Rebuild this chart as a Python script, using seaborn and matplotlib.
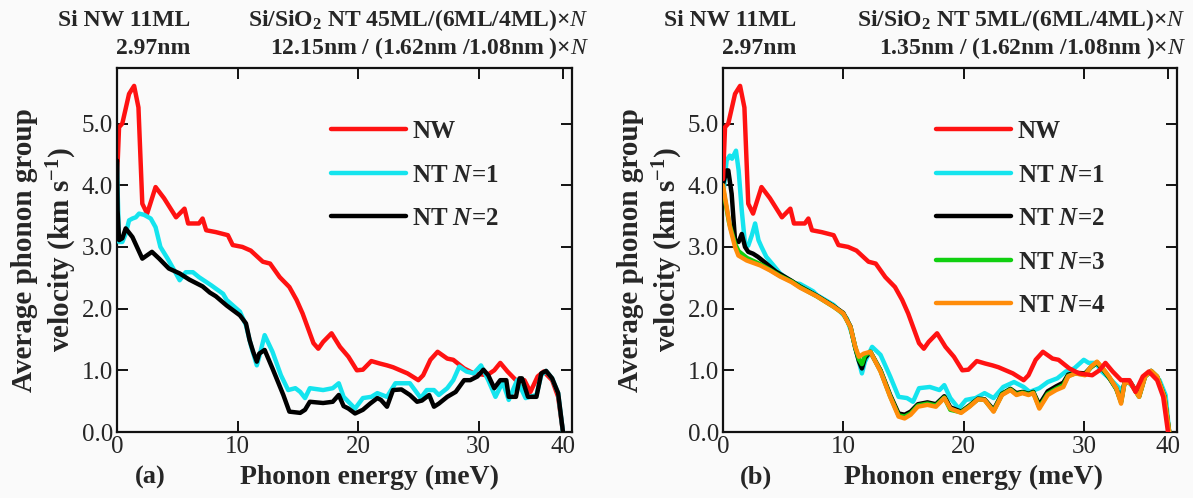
import numpy as np
import pandas as pd
import seaborn as sns
from matplotlib import pyplot as plt

# ---- data (phonon energy in meV, velocity in km/s) ----
nw_e = [0, 0.17, 0.44, 1.0, 1.42, 1.78, 2.1, 2.5, 3.2, 3.9, 4.9, 5.6, 5.9, 6.8, 7.1, 7.4, 8.2, 9.2,
        9.6, 10.4, 11.1, 12.1, 12.7, 13.5, 14.3, 14.9, 15.4, 16.3, 16.7, 17.1, 17.8, 18.5, 19.2,
        19.9, 20.4, 21.1, 21.8, 22.4, 22.9, 24.1, 25.0, 25.4, 26.0, 26.6, 27.4, 27.9, 28.8, 29.6,
        30.7, 31.3, 31.8, 32.4, 33.1, 33.8, 34.3, 34.9, 35.4, 36.1, 36.6, 37.0]
nw_v = [4.1, 4.94, 5.0, 5.48, 5.61, 5.26, 3.70, 3.54, 3.97, 3.79, 3.48, 3.62, 3.38, 3.38, 3.46, 3.27,
        3.24, 3.19, 3.03, 3.0, 2.94, 2.76, 2.73, 2.51, 2.35, 2.14, 1.92, 1.44, 1.35, 1.46, 1.60, 1.38,
        1.22, 1.0, 1.01, 1.15, 1.11, 1.08, 1.05, 0.95, 0.84, 0.92, 1.17, 1.30, 1.19, 1.17, 1.03, 0.95,
        0.92, 1.0, 1.12, 0.98, 0.84, 0.84, 0.65, 0.9, 0.98, 0.84, 0.57, 0.0]

# panel (a): NT 45ML
a1_e = [0, 0.05, 0.17, 0.44, 0.72, 1.0, 1.28, 1.56, 1.83, 2.25, 2.8, 3.2, 3.6, 4.2, 4.75, 5.2, 5.7,
        6.3, 6.8, 7.8, 8.8, 9.1, 10.2, 10.7, 11.1, 11.6, 11.8, 12.25, 12.9, 13.6, 14.2, 14.8, 15.2,
        15.6, 16.0, 17.1, 17.9, 18.4, 18.8, 19.75, 20.4, 21.1, 21.6, 22.4, 23.1, 24.3, 25.2, 25.7,
        26.3, 26.7, 27.4, 27.9, 28.4, 29.0, 29.6, 30.2, 30.8, 31.4, 32.0, 32.5, 33.2, 33.9, 34.8,
        35.2, 35.6, 36.1, 36.6, 37.0]
a1_v = [4.37, 3.92, 3.08, 3.08, 3.21, 3.43, 3.46, 3.48, 3.54, 3.52, 3.46, 3.32, 3.0, 2.81, 2.62, 2.46,
        2.59, 2.59, 2.51, 2.38, 2.24, 2.14, 1.95, 1.73, 1.41, 1.08, 1.22, 1.57, 1.30, 0.92, 0.68, 0.71,
        0.65, 0.55, 0.71, 0.68, 0.71, 0.79, 0.57, 0.38, 0.55, 0.57, 0.63, 0.57, 0.79, 0.79, 0.55, 0.68,
        0.68, 0.6, 0.71, 0.84, 1.06, 0.98, 0.95, 1.08, 0.84, 0.57, 0.81, 0.52, 0.84, 0.55, 0.6,
        0.92, 0.99, 0.87, 0.63, 0.0]

a2_e = [0, 0.05, 0.17, 0.44, 0.72, 1.28, 2.1, 2.9, 3.5, 4.3, 5.2, 6.0, 7.1, 7.7, 8.2, 9.1, 10.2,
        10.7, 11.0, 11.3, 11.6, 11.8, 12.25, 12.9, 13.8, 14.3, 15.2, 15.6, 16.0, 17.1, 17.9, 18.4,
        18.8, 19.2, 19.75, 20.4, 21.0, 21.6, 21.9, 22.4, 22.9, 23.6, 24.3, 24.9, 25.3, 25.9, 26.3,
        26.7, 27.4, 28.1, 28.8, 29.3, 29.9, 30.4, 30.8, 31.3, 31.8, 32.3, 32.5, 33.1, 33.4, 33.6,
        34.1, 34.8, 35.2, 35.6, 36.1, 36.6, 37.0]
a2_v = [4.40, 3.59, 3.11, 3.14, 3.30, 3.16, 2.81, 2.92, 2.81, 2.65, 2.57, 2.47, 2.36, 2.26, 2.2, 2.05,
        1.89, 1.76, 1.49, 1.30, 1.14, 1.27, 1.33, 1.03, 0.6, 0.33, 0.31, 0.36, 0.49, 0.47, 0.49, 0.6,
        0.42, 0.38, 0.30, 0.36, 0.46, 0.55, 0.52, 0.41, 0.68, 0.69, 0.6, 0.49, 0.51, 0.6, 0.41,
        0.46, 0.57, 0.65, 0.84, 0.84, 0.9, 1.01, 0.92, 0.71, 0.84, 0.84, 0.57, 0.57, 0.87, 0.87,
        0.57, 0.57, 0.95, 0.99, 0.87, 0.63, 0.0]

# panel (b): NT 5ML
b1_e = [0, 0.3, 0.56, 0.75, 1.08, 1.3, 1.56, 1.83, 2.1, 2.4, 2.67, 2.95, 3.2, 3.6, 4.2, 4.75, 5.3,
        6.0, 6.4, 7.5, 7.8, 9.2, 10.3, 10.7, 11.2, 11.55, 11.8, 12.4, 13.1, 13.9, 14.6, 15.3, 15.8,
        16.3, 17.2, 18.0, 18.4, 18.9, 19.6, 20.2, 21.0, 21.75, 22.5, 23.3, 24.2, 25.0, 25.5, 26.3,
        27.0, 27.8, 28.5, 29.2, 30.0, 30.4, 31.0, 31.5, 32.3, 33.1, 33.6, 34.5, 35.1, 35.6, 36.3,
        36.8, 37.1]
b1_v = [3.81, 4.40, 4.48, 4.43, 4.56, 4.24, 3.59, 3.05, 3.02, 3.19, 3.38, 3.11, 3.0, 2.84, 2.70, 2.57,
        2.49, 2.41, 2.40, 2.28, 2.22, 2.06, 1.84, 1.60, 1.22, 0.95, 1.14, 1.38, 1.25, 0.9, 0.57, 0.55,
        0.49, 0.71, 0.73, 0.68, 0.76, 0.55, 0.38, 0.52, 0.55, 0.63, 0.55, 0.73, 0.81, 0.73, 0.65, 0.71,
        0.81, 0.87, 0.98, 1.03, 1.17, 1.12, 1.12, 0.98, 0.84, 0.68, 0.84, 0.63, 0.90, 0.98, 0.84,
        0.6, 0.0]

b2_e = [0, 0.3, 0.44, 0.72, 1.0, 1.3, 1.56, 1.83, 2.1, 2.5, 2.9, 3.6, 4.4, 5.7, 6.4, 7.8, 9.2, 10.0,
        10.6, 11.0, 11.3, 11.55, 11.8, 12.25, 13.1, 13.9, 14.6, 15.1, 15.6, 16.2, 17.0, 17.7, 18.4,
        18.9, 19.8, 20.5, 21.2, 21.75, 22.5, 23.2, 23.9, 24.4, 24.9, 25.4, 25.8, 26.3, 27.0, 27.7,
        28.3, 28.7, 29.3, 30.1, 30.6, 31.1, 31.6, 32.1, 32.7, 33.1, 33.4, 33.9, 34.6, 35.1, 35.6,
        36.1, 36.7, 37.1]
b2_v = [4.02, 4.24, 4.24, 3.86, 3.11, 3.08, 3.21, 3.0, 2.92, 2.89, 2.84, 2.73, 2.6, 2.45, 2.36, 2.21,
        2.04, 1.93, 1.71, 1.36, 1.15, 1.03, 1.20, 1.30, 1.0, 0.60, 0.30, 0.28, 0.33, 0.45, 0.48, 0.45,
        0.58, 0.40, 0.33, 0.43, 0.54, 0.53, 0.36, 0.62, 0.70, 0.63, 0.65, 0.62, 0.65, 0.44, 0.66,
        0.74, 0.80, 0.93, 0.96, 0.95, 1.05, 1.12, 1.01, 0.88, 0.70, 0.50, 0.82, 0.80, 0.58, 0.91,
        0.99, 0.89, 0.58, 0.0]

b3_e = [0, 0.5, 1.0, 1.3, 2.0, 3.1, 3.9, 4.75, 5.7, 6.4, 7.8, 9.2, 10.0, 10.6, 11.0, 11.3, 11.55,
        11.8, 12.25, 13.1, 13.9, 14.6, 15.1, 15.6, 16.2, 17.0, 17.7, 18.4, 18.9, 19.8, 20.5, 21.2,
        21.75, 22.5, 23.2, 23.9, 24.4, 24.9, 25.4, 25.8, 26.3, 27.0, 27.7, 28.3, 28.7, 29.3, 30.1,
        30.6, 31.1, 31.6, 32.1, 32.7, 33.1, 33.4, 33.9, 34.6, 35.1, 35.6, 36.1, 36.7, 37.1]
b3_v = [3.95, 3.4, 3.05, 2.93, 2.82, 2.72, 2.63, 2.53, 2.44, 2.35, 2.20, 2.03, 1.92, 1.70, 1.37, 1.18,
        1.10, 1.24, 1.30, 0.99, 0.58, 0.27, 0.25, 0.30, 0.43, 0.46, 0.43, 0.56, 0.36, 0.32, 0.42, 0.53,
        0.52, 0.34, 0.61, 0.69, 0.61, 0.64, 0.61, 0.64, 0.40, 0.62, 0.70, 0.76, 0.91, 0.95, 0.93,
        1.05, 1.13, 1.02, 0.89, 0.70, 0.48, 0.81, 0.79, 0.57, 0.90, 0.99, 0.90, 0.57, 0.0]

b4_e = [0, 0.58, 1.0, 1.28, 1.97, 3.1, 3.9, 4.75, 5.7, 6.4, 7.8, 9.2, 10.0, 10.6, 11.0, 11.3, 11.7,
        12.25, 13.1, 13.9, 14.6, 15.1, 15.6, 16.2, 17.0, 17.7, 18.4, 18.9, 19.8, 20.5, 21.2, 21.75,
        22.5, 23.2, 23.9, 24.4, 24.9, 25.4, 25.8, 26.3, 27.0, 27.7, 28.3, 28.7, 29.3, 30.1, 30.6,
        31.1, 31.6, 32.1, 32.7, 33.1, 33.4, 33.9, 34.6, 35.1, 35.6, 36.1, 36.7, 37.1]
b4_v = [4.0, 3.32, 3.0, 2.86, 2.78, 2.70, 2.62, 2.52, 2.43, 2.34, 2.20, 2.03, 1.92, 1.70, 1.38, 1.22,
        1.27, 1.30, 0.98, 0.57, 0.25, 0.22, 0.28, 0.41, 0.44, 0.41, 0.55, 0.38, 0.31, 0.41, 0.53, 0.52,
        0.33, 0.6, 0.68, 0.6, 0.63, 0.6, 0.63, 0.38, 0.6, 0.68, 0.73, 0.90, 0.95, 0.92, 1.06,
        1.14, 1.03, 0.90, 0.71, 0.46, 0.81, 0.79, 0.57, 0.90, 0.99, 0.90, 0.57, 0.0]

y_ticks = [0, 1, 2, 3, 4, 5]
x_ticks = [0, 10, 20, 30]
x_labels = ['0', '10', '20', '30', '40']

RED, CYAN, BLACK, GREEN, ORANGE = '#ff1212', '#14e4ee', '#000000', '#10d010', '#ff8c0a'

# ---- style ----
sns.set_style('ticks')
plt.rcParams['font.family'] = ['Liberation Serif', 'DejaVu Serif']
plt.rcParams['mathtext.fontset'] = 'custom'
plt.rcParams['mathtext.rm'] = 'Liberation Serif:bold'
plt.rcParams['mathtext.bf'] = 'Liberation Serif:bold'
plt.rcParams['mathtext.it'] = 'Liberation Serif:italic:bold'
plt.rcParams['mathtext.sf'] = 'Liberation Serif:italic'

BG = '#fafafa'
fig = plt.figure(figsize=(11.93, 4.98), dpi=100, facecolor=BG)
W, H = 1193, 498
ax_a = fig.add_axes([117 / W, 66 / H, 455 / W, 364 / H], facecolor=BG)
ax_b = fig.add_axes([723 / W, 66 / H, 454 / W, 364 / H], facecolor=BG)


def draw(ax, e, v, color, label, z):
    df = pd.DataFrame({'E': e, 'v': v})
    sns.lineplot(data=df, x='E', y='v', ax=ax, color=color, lw=3.2, label=label,
                 estimator=None, sort=False, zorder=z)


N = r'$N$'
draw(ax_a, nw_e, nw_v, RED, 'NW', 2)
draw(ax_a, a1_e, a1_v, CYAN, f'NT {N}=1', 3)
draw(ax_a, a2_e, a2_v, BLACK, f'NT {N}=2', 4)

draw(ax_b, nw_e, nw_v, RED, 'NW', 7)
draw(ax_b, b1_e, b1_v, CYAN, f'NT {N}=1', 2)
draw(ax_b, b2_e, b2_v, BLACK, f'NT {N}=2', 3)
draw(ax_b, b3_e, b3_v, GREEN, f'NT {N}=3', 4)
draw(ax_b, b4_e, b4_v, ORANGE, f'NT {N}=4', 5)

for ax in (ax_a, ax_b):
    ax.set_xlim(0, 37.75)
    ax.set_ylim(0, 5.9)
    ax.set_xticks(x_ticks + [37.0], labels=x_labels)
    ax.set_yticks(y_ticks, labels=[f'{t:.1f}' for t in y_ticks])
    last = ax.xaxis.get_major_ticks()[-1]
    last.tick1line.set_visible(False)
    last.tick2line.set_visible(False)
    ax.tick_params(direction='in', length=8, width=1.4, top=True, right=True,
                   labelsize=18, pad=3, colors='#111111', labelcolor='#262626')
    for s in ax.spines.values():
        s.set_linewidth(1.6)
        s.set_color('#111111')
    ax.set_xlabel('')
    ax.set_ylabel('')
    ax.legend(loc='upper left', bbox_to_anchor=(0.47, 0.857), frameon=False,
              prop={'family': 'Liberation Serif', 'weight': 'bold', 'size': 18},
              handlelength=3.0, handletextpad=0.25, labelspacing=0.82,
              borderpad=0, borderaxespad=0)

txt = dict(fontweight='bold', color='#262626')
for x0, xr, ab, xl, tail1, tail2 in [
        (117, 589, '(a)', 370, '45ML', '12.15nm'),
        (723, 1186, '(b)', 973, '5ML', '1.35nm')]:
    fig.text((x0 + 73) / W, 1 - 20 / H, 'Si NW 11ML', ha='right', va='center', fontsize=17, **txt)
    fig.text((x0 + 73) / W, 1 - 48 / H, '2.97nm', ha='right', va='center', fontsize=17, **txt)
    fig.text(xr / W, 1 - 20 / H, r'Si/SiO$_2$ NT ' + tail1 + r'/(6ML/4ML)×$\mathsf{N}$',
             ha='right', va='center', fontsize=17, **txt)
    fig.text(xr / W, 1 - 48 / H, tail2 + r' / (1.62nm /1.08nm )×$\mathsf{N}$',
             ha='right', va='center', fontsize=17, **txt)
    fig.text((x0 - 72) / W, 1 - 250 / H, 'Average phonon group\nvelocity (km s$^{-1}$)',
             rotation=90, ha='center', va='center', multialignment='center',
             fontsize=21, linespacing=1.25, **txt)
    fig.text(xl / W, 1 - 477 / H, 'Phonon energy (meV)', ha='center', va='center',
             fontsize=20, **txt)
    fig.text((x0 + 33) / W, 1 - 477 / H, ab, ha='center', va='center', fontsize=19, **txt)

fig.savefig('out.png', dpi=100, facecolor=BG)
